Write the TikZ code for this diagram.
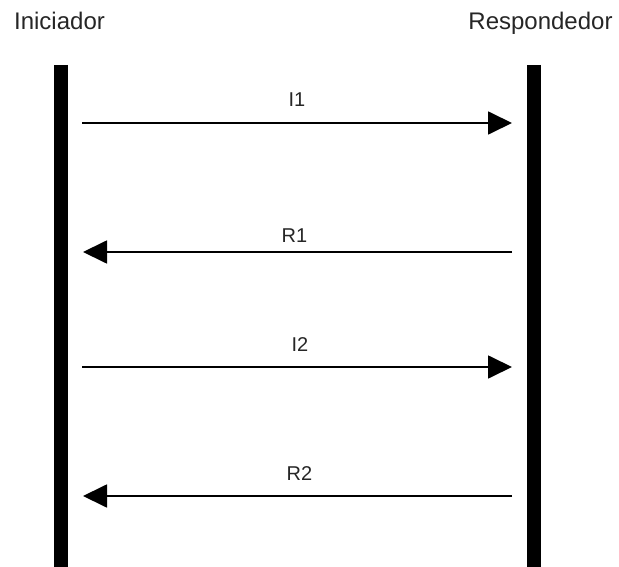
\documentclass[tikz,border=0pt]{standalone}
\usepackage{fontspec}
\setmainfont{Liberation Sans}
\usetikzlibrary{arrows.meta}
\tikzset {>={Triangle[length=24pt,width=23pt]}}
\tikzset {party/.style={anchor=base,text=black!85,font=\fontsize{24}{28}\selectfont},
          msg/.style={anchor=base,text=black!85,font=\fontsize{20}{24}\selectfont},
          lifeline/.style={line width=14pt},
          message/.style={->,line width=1.8pt}}

\begin{document}
\begin{tikzpicture}[x=1pt,y=-1pt]

\useasboundingbox (0,0) rectangle (619,567);

% Party names
\node[party] (ini) at (59.5,30) {Iniciador};
\node[party] (resp) at (540.5,30) {Respondedor};

% Life lines
\coordinate (iniTop) at (61,65);
\coordinate (iniBot) at (61,567);
\coordinate (respTop) at (534,65);
\coordinate (respBot) at (534,567);
\draw [lifeline] (iniTop) -- (iniBot);
\draw [lifeline] (respTop) -- (respBot);

% Message end points
\coordinate (I1a) at (82,123);  \coordinate (I1b) at (512,123);
\coordinate (R1a) at (512,252); \coordinate (R1b) at (83,252);
\coordinate (I2a) at (82,367);  \coordinate (I2b) at (512,367);
\coordinate (R2a) at (512,496); \coordinate (R2b) at (83,496);

% Messages
\draw [message] (I1a) -- (I1b);
\draw [message] (R1a) -- (R1b);
\draw [message] (I2a) -- (I2b);
\draw [message] (R2a) -- (R2b);

% Message labels
\node[msg] (I1) at (297,107) {I1};
\node[msg] (R1) at (294.5,243) {R1};
\node[msg] (I2) at (300,351) {I2};
\node[msg] (R2) at (299.5,480) {R2};

\end{tikzpicture}
\end{document}
